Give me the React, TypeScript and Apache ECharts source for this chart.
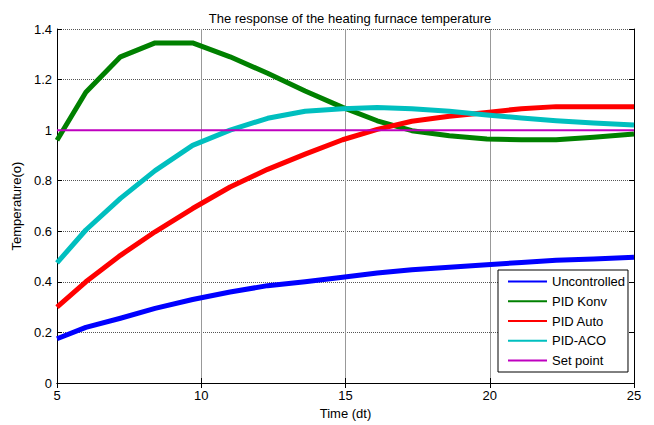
import React, { useEffect, useRef } from "react";
import * as echarts from "echarts";

const timeSteps = [5, 6, 7.2, 8.4, 9.7, 11, 12.3, 13.6, 14.9, 16.1, 17.3, 18.6, 19.9, 21.1, 22.3, 23.6, 25];
const uncontrolled = [0.175, 0.22, 0.256, 0.295, 0.33, 0.36, 0.385, 0.4, 0.418, 0.435, 0.448, 0.458, 0.468, 0.477, 0.485, 0.49, 0.497];
const pidKonv = [0.96, 1.15, 1.29, 1.345, 1.345, 1.29, 1.225, 1.155, 1.09, 1.037, 0.998, 0.978, 0.965, 0.962, 0.962, 0.972, 0.985];
const pidAuto = [0.3, 0.4, 0.505, 0.598, 0.69, 0.775, 0.845, 0.905, 0.962, 1.003, 1.035, 1.055, 1.07, 1.085, 1.093, 1.093, 1.093];
const pidAco = [0.475, 0.605, 0.73, 0.84, 0.94, 1.0, 1.047, 1.075, 1.085, 1.09, 1.085, 1.075, 1.06, 1.048, 1.037, 1.028, 1.02];
const setPointX = [5, 25];
const setPoint = [1, 1];

const seriesNames = ["Uncontrolled", "PID Konv", "PID Auto", "PID-ACO", "Set point"];
const xTicks = { min: 5, max: 25, interval: 5 };
const yTicks = { min: 0, max: 1.4, interval: 0.2 };

const FONT = "'Liberation Sans', Arial, sans-serif";

const pairs = (xs: number[], ys: number[]) => xs.map((x, i) => [x, ys[i]]);

export default function App() {
  const ref = useRef<HTMLDivElement>(null);
  useEffect(() => {
    if (!ref.current) return;
    const chart = echarts.init(ref.current, undefined, { renderer: "svg" });
    const lineSeries = (name: string, data: number[][], color: string, width: number) => ({
      name,
      type: "line",
      data,
      symbol: "none",
      showSymbol: false,
      xAxisIndex: 0,
      yAxisIndex: 0,
      lineStyle: { color, width, join: "round" },
      itemStyle: { color },
      z: 3,
    });
    chart.setOption({
      animation: false,
      backgroundColor: "#fff",
      textStyle: { fontFamily: FONT },
      title: {
        text: "The response of the heating furnace temperature",
        left: 345,
        textAlign: "center",
        top: 7,
        textStyle: { fontSize: 13, fontWeight: "normal", color: "#000", fontFamily: FONT },
      },
      grid: { left: 57, right: 20, top: 29, bottom: 42, containLabel: false },
      legend: {
        orient: "vertical",
        left: 498,
        top: 270,
        data: seriesNames,
        itemWidth: 39,
        itemHeight: 14,
        itemGap: 6.75,
        padding: [5, 3, 5, 9],
        backgroundColor: "#fff",
        borderColor: "#000",
        borderWidth: 1,
        itemStyle: { opacity: 0 },
        textStyle: { fontSize: 13, color: "#000", fontFamily: FONT },
      },
      xAxis: [
        {
          type: "value",
          min: xTicks.min,
          max: xTicks.max,
          interval: xTicks.interval,
          name: "Time (dt)",
          nameLocation: "middle",
          nameGap: 24,
          nameTextStyle: { fontSize: 13, color: "#000", fontFamily: FONT },
          axisLine: { show: true, lineStyle: { color: "#000", width: 1 } },
          axisTick: { show: true, inside: true, length: 5, lineStyle: { color: "#000" } },
          axisLabel: { color: "#000", fontSize: 13, margin: 6, fontFamily: FONT },
          splitLine: { show: true, lineStyle: { color: "#999", width: 1 } },
        },
        {
          type: "value",
          position: "top",
          min: xTicks.min,
          max: xTicks.max,
          interval: xTicks.interval,
          axisLine: { show: true, lineStyle: { color: "#000", width: 1 } },
          axisTick: { show: true, inside: true, length: 5, lineStyle: { color: "#000" } },
          axisLabel: { show: false },
          splitLine: { show: false },
        },
      ],
      yAxis: [
        {
          type: "value",
          min: yTicks.min,
          max: yTicks.max,
          interval: yTicks.interval,
          name: "Temperature(o)",
          nameLocation: "middle",
          nameGap: 33,
          nameTextStyle: { fontSize: 13, color: "#000", fontFamily: FONT },
          axisLine: { show: true, lineStyle: { color: "#000", width: 1 } },
          axisTick: { show: true, inside: true, length: 5, lineStyle: { color: "#000" } },
          axisLabel: { color: "#000", fontSize: 13, margin: 5, fontFamily: FONT },
          splitLine: { show: true, lineStyle: { color: "#555", width: 1, type: [1, 1] } },
        },
        {
          type: "value",
          position: "right",
          min: yTicks.min,
          max: yTicks.max,
          interval: yTicks.interval,
          axisLine: { show: true, lineStyle: { color: "#000", width: 1 } },
          axisTick: { show: true, inside: true, length: 5, lineStyle: { color: "#000" } },
          axisLabel: { show: false },
          splitLine: { show: false },
        },
      ],
      series: [
        lineSeries(seriesNames[0], pairs(timeSteps, uncontrolled), "#0000FF", 5),
        lineSeries(seriesNames[1], pairs(timeSteps, pidKonv), "#008000", 5),
        lineSeries(seriesNames[2], pairs(timeSteps, pidAuto), "#FF0000", 5),
        lineSeries(seriesNames[3], pairs(timeSteps, pidAco), "#00BFBF", 5),
        lineSeries(seriesNames[4], pairs(setPointX, setPoint), "#BF00BF", 2),
      ],
    });
    return () => chart.dispose();
  }, []);
  return <div ref={ref} style={{ width: 654, height: 425, position: "absolute", left: 0, top: 0 }} />;
}
